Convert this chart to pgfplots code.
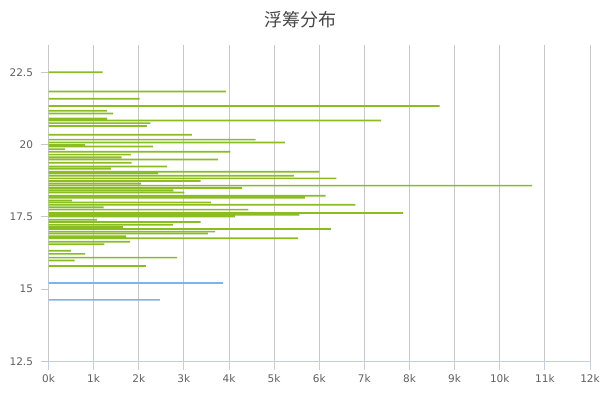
\documentclass[border=0pt]{standalone}
\usepackage{fontspec}
\setmainfont{DejaVu Sans}
\newfontfamily\cjk{Noto Sans CJK SC}
\usepackage{pgfplots}
\pgfplotsset{compat=1.18}
\usepackage{pgfplotstable}
\definecolor{barGreen}{RGB}{139,188,33}
\definecolor{barBlue}{RGB}{124,181,236}
\definecolor{gridGray}{RGB}{200,200,200}
\definecolor{axisBlue}{RGB}{192,208,224}
\definecolor{labelGray}{RGB}{96,96,96}
\definecolor{titleGray}{RGB}{70,70,70}
\pgfplotstableread{
price vol
22.50 1200
21.83 3930
21.58 2020
21.33 8670
21.17 1300
21.07 1430
20.90 1300
20.83 7370
20.74 2260
20.64 2180
20.34 3180
20.17 4590
20.07 5240
19.98 810
19.93 2320
19.84 370
19.75 4030
19.65 1830
19.56 1620
19.48 3760
19.37 1840
19.24 2630
19.16 1380
19.06 6000
19.01 2430
18.92 5440
18.83 6380
18.74 3370
18.65 2050
18.58 10720
18.50 4290
18.42 2770
18.34 3010
18.23 6140
18.16 5680
18.07 520
18.00 3600
17.92 6800
17.83 1220
17.75 4430
17.63 7860
17.57 5560
17.51 4130
17.40 1070
17.32 3370
17.23 2760
17.15 1650
17.08 6260
16.99 3690
16.92 3530
16.83 1720
16.76 5530
16.64 1810
16.55 1240
16.33 500
16.22 810
16.09 2850
15.99 580
15.80 2160
}\greenchips
\pgfplotstableread{
price vol
15.21 3870
14.63 2470
}\bluechips
\begin{document}
\begin{tikzpicture}
\useasboundingbox (0,0) rectangle (600bp,400bp);
\node[font=\cjk\fontsize{18bp}{20bp}\selectfont, text=titleGray] at (300bp,380bp) {浮筹分布};
\begin{axis}[
  at={(48.5bp,38.5bp)}, anchor=south west,
  scale only axis, width=541.5bp, height=316.5bp,
  xmin=0, xmax=12000, ymin=12.5, ymax=23.44,
  scaled x ticks=false,
  xtick={0,1000,...,12000},
  xticklabels={0k,1k,2k,3k,4k,5k,6k,7k,8k,9k,10k,11k,12k},
  ytick={12.5,15,17.5,20,22.5},
  yticklabels={12.5,15,17.5,20,22.5},
  axis x line*=bottom, axis y line*=left,
  x axis line style={axisBlue, line width=1bp, -},
  y axis line style={gridGray, line width=1bp, -},
  xmajorgrids, major grid style={gridGray, line width=1bp},
  tick align=outside,
  x tick style={axisBlue, line width=1bp},
  y tick style={gridGray, line width=1bp},
  major tick length=8bp,
  ticklabel style={font=\fontsize{10.5bp}{12bp}\selectfont, text=labelGray},
  yticklabel style={xshift=-4bp},
  xticklabel style={yshift=-2bp},
  /pgf/number format/assume math mode=true,
  xbar, bar width=1.7bp, bar shift=0pt,
]
\addplot[draw=none, fill=barGreen] table[x=vol, y=price] {\greenchips};
\addplot[draw=none, fill=barBlue] table[x=vol, y=price] {\bluechips};
\end{axis}
\end{tikzpicture}
\end{document}
